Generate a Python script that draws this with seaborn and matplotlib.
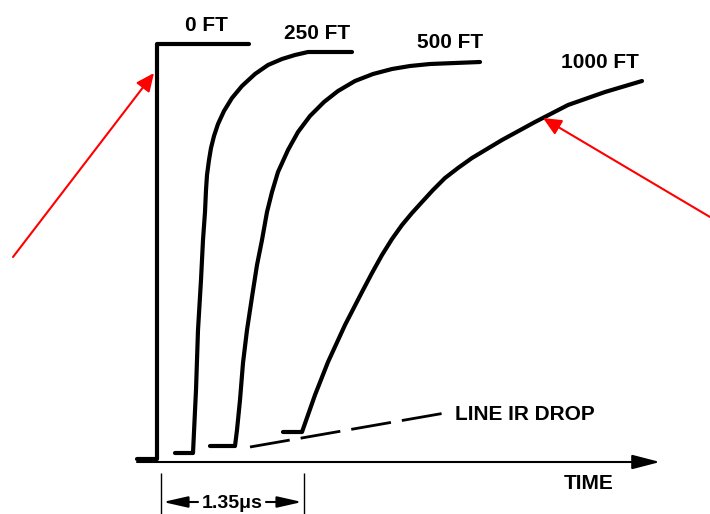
import matplotlib
matplotlib.use('Agg')
import matplotlib.pyplot as plt
from matplotlib import font_manager
import seaborn as sns

# curve points (x = time, y = level, drawing units, y grows downward)
ft0_x = [137, 157, 157, 249]
ft0_y = [459, 459, 44, 44]

ft250_x = [175, 193, 196, 198, 201, 203, 205, 206, 207, 209, 211, 214, 218, 224, 232, 242, 255, 268, 282, 295, 308, 352]
ft250_y = [453, 453, 390, 330, 280, 240, 212, 190, 175, 160, 148, 136, 124, 111, 98, 86, 74, 65, 59, 55, 52, 52]

ft500_x = [210, 235, 237, 240, 243, 247, 252, 257, 262, 267, 272, 278, 288, 298, 310, 324, 338, 355, 373, 392, 410, 430, 455, 480]
ft500_y = [446, 446, 430, 400, 363, 330, 297, 265, 240, 212, 192, 172, 150, 132, 116, 102, 91, 81, 74, 69, 66, 64, 63, 62]

ft1000_x = [283, 302, 315, 328, 345, 362, 372, 382, 392, 402, 412, 422, 433, 445, 458, 472, 502, 535, 568, 605, 642]
ft1000_y = [432, 432, 395, 362, 325, 292, 273, 255, 239, 225, 213, 202, 190, 178, 168, 158, 140, 122, 105, 92, 81]

ir_x = [250, 445]
ir_y = [447, 413]

curve_labels = ['0 FT', '250 FT', '500 FT', '1000 FT']
label_x = [206, 317, 450, 600]
label_y = [31, 39, 48, 68]

names = {f.name for f in font_manager.fontManager.ttflist}
fam = 'Liberation Sans Narrow' if 'Liberation Sans Narrow' in names else 'Liberation Sans'

sns.set_style('white')
plt.rcParams['font.family'] = [fam, 'DejaVu Sans']
plt.rcParams['text.color'] = 'black'

fig = plt.figure(figsize=(7.1, 5.14), dpi=100)
ax = fig.add_axes([0, 0, 1, 1])

for xs, ys in [(ft0_x, ft0_y), (ft250_x, ft250_y), (ft500_x, ft500_y), (ft1000_x, ft1000_y)]:
    sns.lineplot(x=xs, y=ys, sort=False, estimator=None, color='black', lw=3,
                 solid_joinstyle='round', ax=ax)

sns.lineplot(x=ir_x, y=ir_y, sort=False, estimator=None, color='black', lw=2,
             dashes=False, ax=ax)
ax.lines[-1].set_dashes((14.5, 4))

# time axis
ax.annotate('', xy=(660, 462), xytext=(137, 462),
            arrowprops=dict(arrowstyle='-|>,head_length=0.85,head_width=0.22',
                            color='black', lw=1.5, mutation_scale=20,
                            shrinkA=0, shrinkB=0))

# 1.35 us dimension
ax.vlines([161, 304], 473, 514, color='black', lw=1)
for tip, tail in [(163, 198), (302, 266)]:
    ax.annotate('', xy=(tip, 502), xytext=(tail, 502),
                arrowprops=dict(arrowstyle='-|>,head_length=0.75,head_width=0.17',
                                color='black', lw=1.5, mutation_scale=20,
                                shrinkA=0, shrinkB=0))
ax.text(232, 508, '1.35\u03bcs', ha='center', va='baseline', fontsize=14, fontweight='bold')

for lab, x, y in zip(curve_labels, label_x, label_y):
    ax.text(x, y, lab, ha='center', va='baseline', fontsize=15, fontweight='bold')
ax.text(455, 420, 'LINE IR DROP', ha='left', va='baseline', fontsize=15, fontweight='bold')
ax.text(589, 489, 'TIME', ha='center', va='baseline', fontsize=15, fontweight='bold')

# red callout arrows
for tip, tail in [((154, 73), (13, 257)), ((543, 118), (710, 217))]:
    ax.annotate('', xy=tip, xytext=tail,
                arrowprops=dict(arrowstyle='-|>,head_length=0.55,head_width=0.25',
                                color='red', lw=1.5, mutation_scale=20,
                                shrinkA=0, shrinkB=0))

ax.set_xlim(0, 710)
ax.set_ylim(514, 0)
ax.axis('off')

fig.savefig('out.png', dpi=100, facecolor='white')
